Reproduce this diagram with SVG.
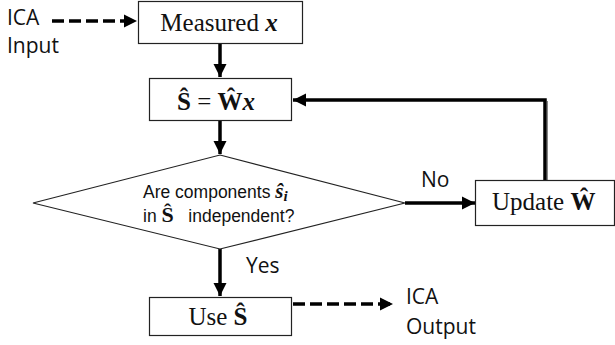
<svg xmlns="http://www.w3.org/2000/svg" width="615" height="345" viewBox="0 0 615 345">
<style>
.box{fill:#fff;stroke:#222;stroke-width:1.2}
.ser{font-family:"Liberation Serif","Times New Roman",serif;font-size:25px;fill:#111}
.lbl{font-family:"Open Sans","Liberation Sans",sans-serif;font-size:21px;fill:#111}
.dia{font-family:"Liberation Sans",Arial,sans-serif;font-size:17.5px;fill:#111}
.b{font-weight:bold}
.bi{font-weight:bold;font-style:italic}
.con{fill:none;stroke:#000;stroke-width:3.5}
.dash{stroke-dasharray:12 5}
</style>
<defs>
<marker id="ah" markerUnits="userSpaceOnUse" markerWidth="14" markerHeight="14" refX="13" refY="7" orient="auto">
<path d="M0,0.5 L13,7 L0,13.5 z" fill="#000"/>
</marker>
</defs>
<rect width="615" height="345" fill="#fff"/>
<g id="connectors">
<line class="con dash" x1="52" y1="21" x2="137" y2="21" marker-end="url(#ah)"/>
<line class="con" x1="220" y1="44" x2="220" y2="77" marker-end="url(#ah)"/>
<line class="con" x1="220" y1="121" x2="220" y2="154" marker-end="url(#ah)"/>
<line class="con" x1="405" y1="203" x2="475" y2="203" marker-end="url(#ah)"/>
<polyline class="con" points="545,180 545,100 293,100" marker-end="url(#ah)"/>
<line x1="547.5" y1="101" x2="547.5" y2="180" stroke="#888" stroke-width="1"/>
<line class="con" x1="220" y1="249" x2="220" y2="296" marker-end="url(#ah)"/>
<line class="con dash" x1="293" y1="304" x2="393" y2="304" marker-end="url(#ah)"/>
</g>
<g id="ica-input">
<text class="lbl" x="7" y="25">ICA</text>
<text class="lbl" x="7" y="53">Input</text>
</g>
<g id="measured">
<rect class="box" x="138.5" y="1.5" width="164" height="42"/>
<text class="ser" x="219" y="31" text-anchor="middle">Measured <tspan class="bi">x</tspan></text>
</g>
<g id="estimate">
<rect class="box" x="149.5" y="78.5" width="142" height="42"/>
<text class="ser" x="216" y="110" text-anchor="middle"><tspan class="b">Ŝ</tspan> = <tspan class="b">Ŵ</tspan><tspan class="bi">x</tspan></text>
</g>
<g id="decision">
<polygon class="box" points="220,155 405,203 220,249 33,203"/>
<text class="dia" x="143" y="198">Are components <tspan class="bi" font-family="Liberation Serif" font-size="21">ŝ</tspan><tspan class="bi" font-family="Liberation Serif" font-size="15" dy="3">i</tspan></text>
<text class="dia" x="143" y="222" xml:space="preserve">in <tspan class="b" font-family="Liberation Serif" font-size="22">Ŝ</tspan>   independent?</text>
</g>
<g id="no-label">
<text class="lbl" x="421" y="187">No</text>
</g>
<g id="update">
<rect class="box" x="475.5" y="180.5" width="139" height="45"/>
<text class="ser" x="492" y="210">Update <tspan class="b">Ŵ</tspan></text>
</g>
<g id="yes-label">
<text class="lbl" x="246" y="273">Yes</text>
</g>
<g id="use">
<rect class="box" x="149.5" y="297.5" width="142" height="38"/>
<text class="ser" x="218" y="325" text-anchor="middle">Use <tspan class="b">Ŝ</tspan></text>
</g>
<g id="ica-output">
<text class="lbl" x="406" y="304">ICA</text>
<text class="lbl" x="406" y="334">Output</text>
</g>
</svg>
